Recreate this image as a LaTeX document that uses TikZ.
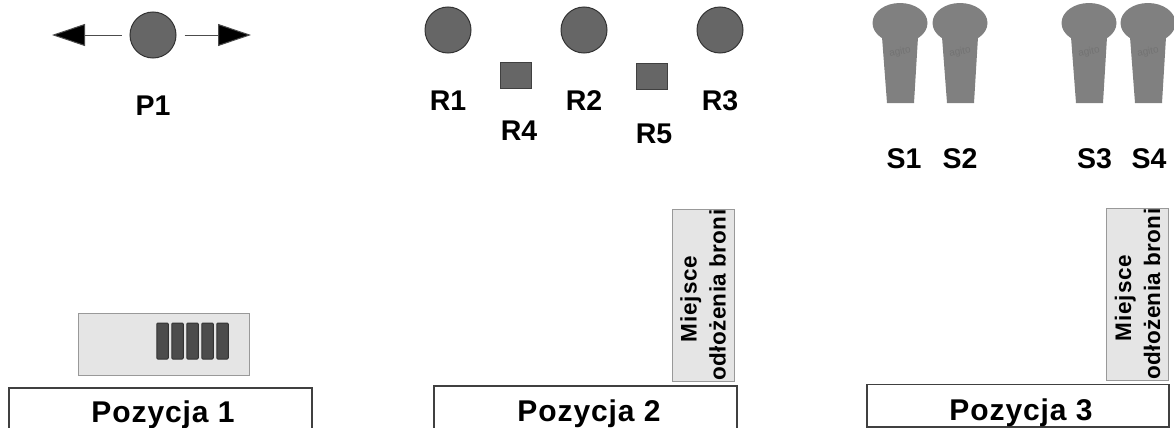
\documentclass[tikz,border=0pt]{standalone}
\usepackage{fontspec}
\setmainfont{Liberation Sans}
\usetikzlibrary{arrows.meta}
\newdimen\cell
\tikzset{cell/.code={\cell=\dimexpr#1\relax}}
\tikzset{xy/.style={x={#1},y={#1},cell={#1},font={\bfseries\fontsize{.285\cell}{.32\cell}\selectfont},line width=.01\cell}}
\tikzset{disc/.style={circle,draw=black!80,fill=black!60,inner sep=0pt,minimum size=.46\cell}}
\tikzset{plate/.style={draw=black!75,fill=black!60,inner sep=0pt,minimum width=.31\cell,minimum height=.26\cell}}
\tikzset{tag/.style={anchor=base,inner sep=0pt}}
\tikzset{tray/.style={draw=black!40,fill=black!10}}
\tikzset{magazine/.style={draw=black!80,fill=black!70,rounded corners=.01\cell,inner sep=0pt,minimum width=.115\cell,minimum height=.36\cell}}
\tikzset{shelf/.style={tray,rotate=90,inner sep=0pt,minimum width=1.72\cell,minimum height=.62\cell,align=center,font={\bfseries\fontsize{.225\cell}{.29\cell}\selectfont}}}
\tikzset{post/.style={draw=black!75,line width=.012\cell}}
\tikzset{poslabel/.style={tag,font={\bfseries\fontsize{.3\cell}{.34\cell}\selectfont\addfontfeature{LetterSpace=3}}}}
\tikzset{swing/.style={draw=black!70,shorten <=.08\cell,-{Triangle[length=33pt,width=22pt,fill=black]}}}
\newcommand{\shelftext}{{\addfontfeature{LetterSpace=4}Miejsce}\hspace*{.08\cell}\\{\addfontfeature{LetterSpace=1.5}odłożenia broni}}

\begin{document}
\begin{tikzpicture}[xy=100pt]%
    \path [use as bounding box] (0,0) rectangle (11.74,4.27);
    % position 1
    \path (1.53,3.92) node [disc] (p1) {};
    \coordinate (p1west) at (.52,3.92);
    \coordinate (p1east) at (2.51,3.92);
    \path [swing] (p1) -- (p1west);
    \path [swing] (p1) -- (p1east);
    \path (1.53,3.12) node [tag] (p1tag) {P1};
    \path [tray] (.78,.52) rectangle (2.49,1.14);
    \foreach \x in {1,...,5} {
        \path (1.475+.15*\x,.86) node [magazine] (mag\x) {};
    }
    % position 2
    \foreach \n/\x in {1/4.48,2/5.84,3/7.20} {
        \path (\x,3.97) node [disc] (r\n) {};
        \path (\x,3.17) node [tag] (r\n tag) {R\n};
    }
    \foreach \n/\x/\y/\t/\l in {4/5.155/3.52/2.87/5.19,5/6.515/3.51/2.84/6.54} {
        \path (\x,\y) node [plate] (r\n) {};
        \path (\l,\t) node [tag] (r\n tag) {R\n};
    }
    \path (7.03,1.32) node [shelf] (shelf2) {\shelftext};
    % position 3
    \foreach \n/\x/\l in {1/9.00/9.04,2/9.60/9.60,3/10.89/10.945,4/11.48/11.49} {
        \path [fill=black!50] (\x-.18,3.90) -- (\x-.13,3.24) -- (\x+.14,3.24) -- (\x+.18,3.90) -- cycle;
        \path [fill=black!50] (\x,4.04) ellipse (.275 and .20);
        \path (\x,3.75) node [rotate=10,text=black!55,font={\fontsize{.1\cell}{.12\cell}\selectfont}] (mark\n) {agito};
        \path (\l,2.59) node [tag] (s\n tag) {S\n};
    }
    \path (11.375,1.33) node [shelf] (shelf3) {\shelftext};
    % firing lines
    \path [post] (.09,-.1) rectangle (3.12,.39);
    \path [post] (4.34,-.1) rectangle (7.37,.41);
    \path [post] (8.67,0) rectangle (11.69,.425);
    \path (1.63,.05) node [poslabel] (pos1) {Pozycja 1};
    \path (5.89,.06) node [poslabel] (pos2) {Pozycja 2};
    \path (10.21,.07) node [poslabel] (pos3) {Pozycja 3};
\end{tikzpicture}
\end{document}
